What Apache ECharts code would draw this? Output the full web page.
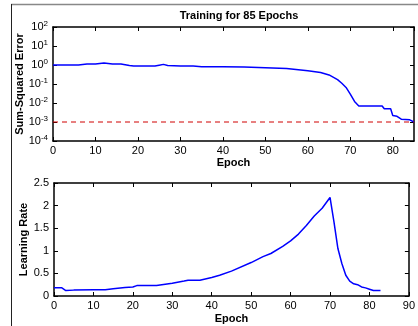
<!DOCTYPE html>
<html>
<head>
<meta charset="utf-8">
<script src="https://cdn.jsdelivr.net/npm/echarts@6/dist/echarts.min.js"></script>
<style>
  html, body { margin: 0; padding: 0; background: #fff; }
  #chart { width: 418px; height: 326px; }
</style>
</head>
<body>
<div id="chart"></div>
<script>
// Sum-squared error per epoch (log scale)
const errEpochs = [0, 3, 6, 8, 10, 12, 14, 16, 18, 19, 24, 25, 26, 27, 30, 33, 35, 40, 45, 50, 55, 60, 63, 65, 67, 68, 69, 70, 71, 72, 75, 77.5, 78, 79.5, 80, 81, 82, 84, 85];
const errValues = [1.0, 1.0, 1.0, 1.12, 1.12, 1.27, 1.13, 1.13, 0.95, 0.89, 0.89, 0.98, 1.08, 0.95, 0.89, 0.89, 0.82, 0.82, 0.78, 0.72, 0.65, 0.5, 0.4, 0.3, 0.17, 0.11, 0.066, 0.029, 0.012, 0.007, 0.007, 0.007, 0.005, 0.005, 0.0022, 0.002, 0.0014, 0.0013, 0.001];
const errGoal = 0.001;

// Learning rate per epoch
const lrEpochs = [0, 2, 3, 5, 10, 13, 15, 18, 20, 21, 26, 30, 33, 34, 37, 40, 42, 45, 50, 53, 55, 58, 60, 62, 64, 66, 68, 70, 71, 72, 73, 74, 75, 76, 77, 78, 79, 80, 81, 82.8];
const lrValues = [0.18, 0.18, 0.12, 0.13, 0.14, 0.14, 0.16, 0.19, 0.2, 0.23, 0.23, 0.28, 0.33, 0.35, 0.35, 0.41, 0.46, 0.55, 0.74, 0.87, 0.94, 1.1, 1.22, 1.37, 1.56, 1.77, 1.94, 2.18, 1.64, 1.05, 0.72, 0.46, 0.33, 0.27, 0.25, 0.2, 0.18, 0.15, 0.12, 0.12];

const titleText = 'Training for 85 Epochs';
const lrTicks = ['0', '0.5', '1', '1.5', '2', '2.5'];

const chart = echarts.init(document.getElementById('chart'));

const font = 'Liberation Sans, Arial, Helvetica, sans-serif';
const axisLine = { show: true, onZero: false, lineStyle: { color: '#000', width: 1.5 } };
const tick = { show: true, inside: true, length: 4, lineStyle: { color: '#000', width: 1 } };
const label = { color: '#000', fontSize: 11, fontFamily: font, margin: 4, showMaxLabel: false };
const nameStyle = { color: '#000', fontSize: 11, fontWeight: 'bold', fontFamily: font };

function pairs(xs, ys) {
  return xs.map((x, i) => [x, ys[i]]);
}

function supLabel(v) {
  const e = Math.round(Math.log10(v));
  return '{b|10}{s|' + e + '}';
}

chart.setOption({
  animation: false,
  backgroundColor: '#fff',
  title: {
    text: titleText,
    left: 234, top: 5, textAlign: 'center',
    textStyle: { fontSize: 11, fontWeight: 'bold', color: '#000', fontFamily: font }
  },
  grid: [
    { left: 53, top: 27, width: 361, height: 114 },
    { left: 54, top: 183, width: 360, height: 113 }
  ],
  xAxis: [
    {
      gridIndex: 0, type: 'value', min: 0, max: 85, interval: 10,
      name: 'Epoch', nameLocation: 'middle', nameGap: 16, nameTextStyle: nameStyle,
      axisLine, axisTick: tick, axisLabel: label, splitLine: { show: false }
    },
    {
      gridIndex: 0, type: 'value', min: 0, max: 85, interval: 10, position: 'top',
      axisLine, axisTick: tick, axisLabel: { show: false }, splitLine: { show: false }
    },
    {
      gridIndex: 1, type: 'value', min: 0, max: 90, interval: 10,
      name: 'Epoch', nameLocation: 'middle', nameGap: 17, nameTextStyle: nameStyle,
      axisLine, axisTick: tick, axisLabel: Object.assign({}, label, { showMaxLabel: true }),
      splitLine: { show: false }
    },
    {
      gridIndex: 1, type: 'value', min: 0, max: 90, interval: 10, position: 'top',
      axisLine, axisTick: tick, axisLabel: { show: false }, splitLine: { show: false }
    }
  ],
  yAxis: [
    {
      gridIndex: 0, type: 'log', logBase: 10, min: 1e-4, max: 100,
      name: 'Sum-Squared Error', nameLocation: 'middle', nameGap: 28, nameMoveOverlap: false,
      nameTextStyle: nameStyle,
      axisLine, axisTick: tick, splitLine: { show: false },
      axisLabel: {
        color: '#000', fontFamily: font, margin: 5,
        formatter: supLabel,
        rich: {
          b: { fontSize: 11, fontFamily: font, color: '#000' },
          s: { fontSize: 8, fontFamily: font, color: '#000', padding: [0, 0, 7, 0] }
        }
      }
    },
    {
      gridIndex: 0, type: 'log', logBase: 10, min: 1e-4, max: 100, position: 'right',
      axisLine, axisTick: tick, axisLabel: { show: false }, splitLine: { show: false }
    },
    {
      gridIndex: 1, type: 'value', min: 0, max: 2.5, interval: 0.5,
      name: 'Learning Rate', nameLocation: 'middle', nameGap: 25, nameMoveOverlap: false,
      nameTextStyle: nameStyle,
      axisLine, axisTick: tick, splitLine: { show: false },
      axisLabel: Object.assign({}, label, { showMaxLabel: true, margin: 5,
        formatter: (v) => lrTicks[Math.round(v / 0.5)] })
    },
    {
      gridIndex: 1, type: 'value', min: 0, max: 2.5, interval: 0.5, position: 'right',
      axisLine, axisTick: tick, axisLabel: { show: false }, splitLine: { show: false }
    }
  ],
  series: [
    {
      type: 'line', xAxisIndex: 0, yAxisIndex: 0,
      data: pairs(errEpochs, errValues),
      showSymbol: false, lineStyle: { color: '#0000ff', width: 1.5 }
    },
    {
      type: 'line', xAxisIndex: 0, yAxisIndex: 0,
      data: [[0, errGoal], [85, errGoal]],
      showSymbol: false, lineStyle: { color: '#d00000', width: 1, type: [5, 4] }
    },
    {
      type: 'line', xAxisIndex: 2, yAxisIndex: 2,
      data: pairs(lrEpochs, lrValues),
      showSymbol: false, lineStyle: { color: '#0000ff', width: 1.5 }
    }
  ],
  graphic: [
    { type: 'line', shape: { x1: 11, y1: 4.5, x2: 418, y2: 4.5 }, style: { stroke: '#888', lineWidth: 1.5 } },
    { type: 'line', shape: { x1: 11.5, y1: 4, x2: 11.5, y2: 326 }, style: { stroke: '#222', lineWidth: 1 } }
  ]
});
</script>
</body>
</html>
